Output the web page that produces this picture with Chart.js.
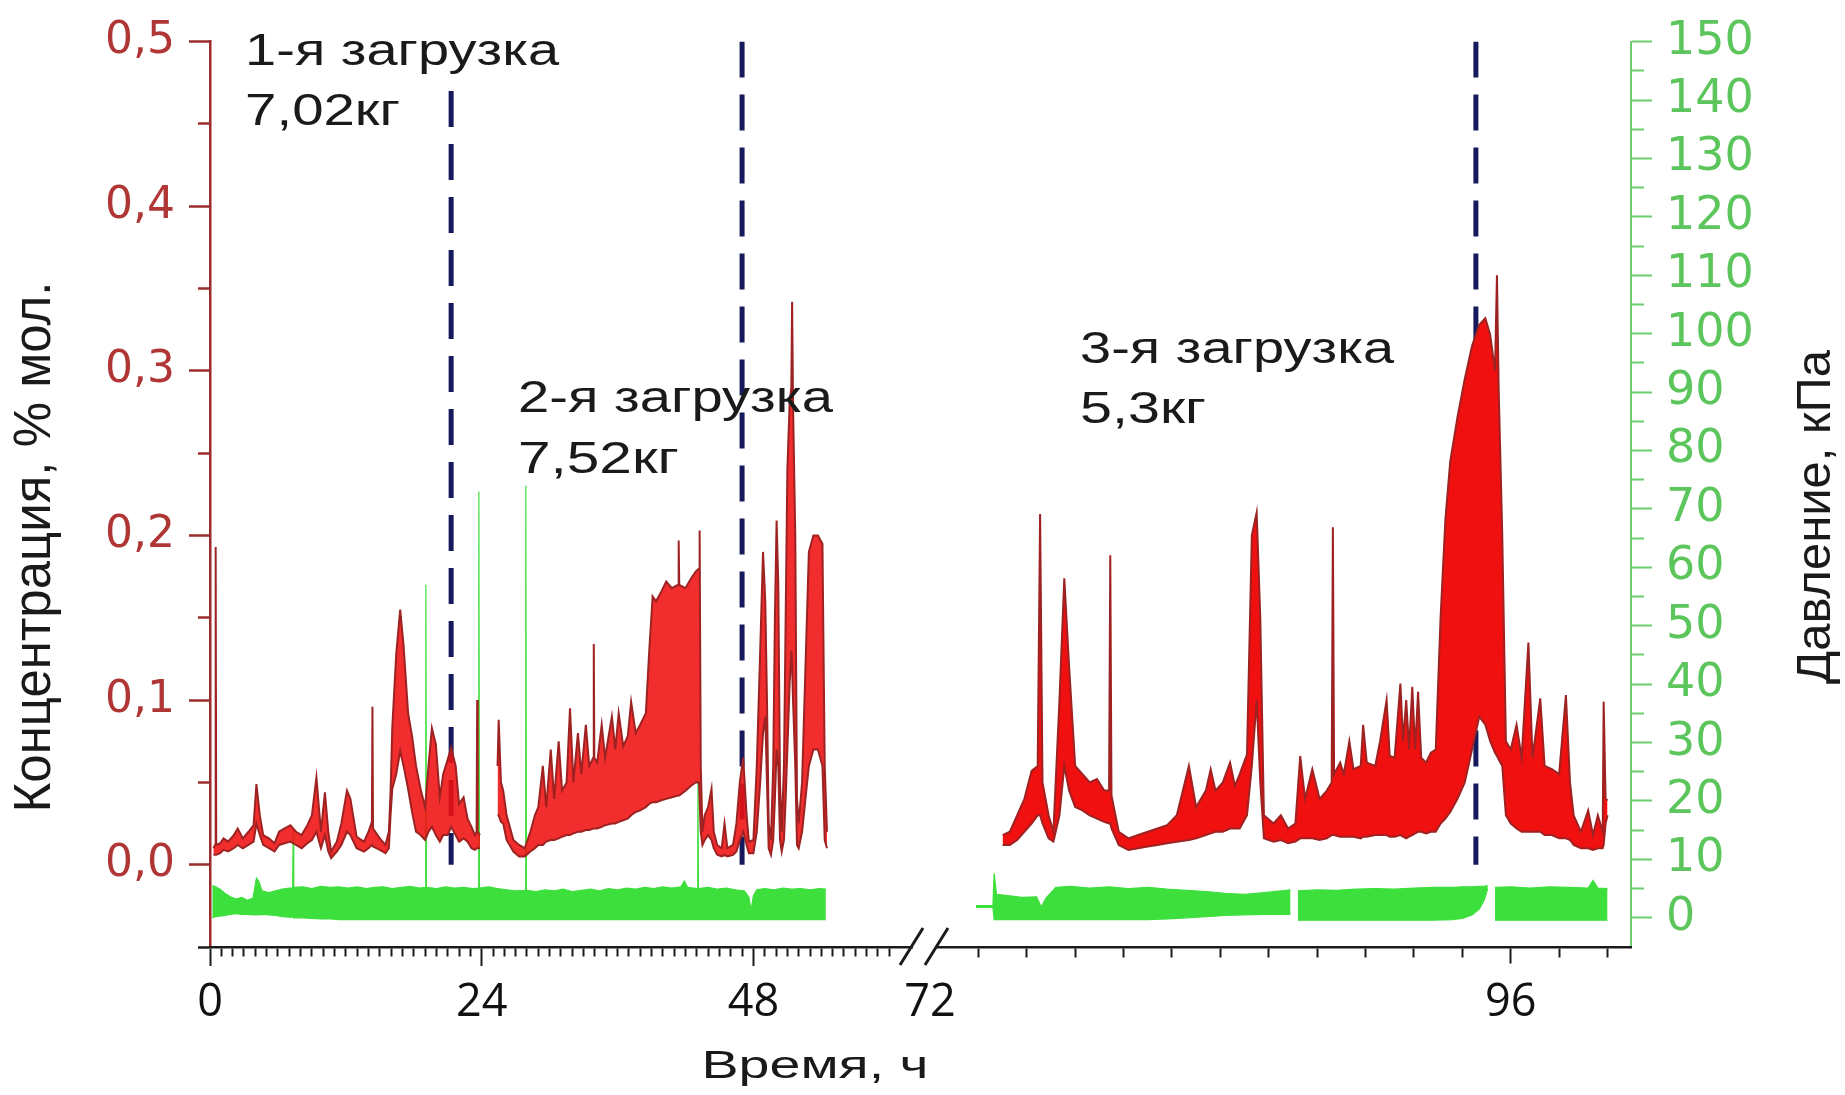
<!DOCTYPE html>
<html>
<head>
<meta charset="utf-8">
<script src="https://cdn.jsdelivr.net/npm/chart.js@4.4.1/dist/chart.umd.min.js"></script>
<style>
  html, body { margin: 0; padding: 0; background: #ffffff; }
  canvas { display: block; }
</style>
</head>
<body>
<canvas id="chart" width="1845" height="1095"></canvas>
<script>
// ---------- Concentration (% mol.), first stretch of the time axis, 0…54.5 h ----------
const concTimeA = [0.30,0.45,0.50,0.55,0.90,1.20,1.60,2.10,2.45,2.90,3.40,3.85,4.10,4.40,4.70,5.20,5.70,6.10,6.60,7.10,
  7.60,8.10,8.60,9.00,9.40,9.80,10.15,10.45,10.70,11.20,11.60,12.10,12.40,12.95,13.60,14.00,14.30,14.35,14.40,15.00,
  15.50,15.80,15.95,16.10,16.45,16.80,17.10,17.50,17.85,18.20,18.60,19.00,19.30,19.60,19.95,20.30,20.60,21.00,21.30,21.70,
  22.00,22.40,22.75,23.10,23.40,23.55,23.60,23.65,23.85,24.00,25.30,25.40,25.50,25.70,25.90,26.20,26.80,27.30,27.80,28.30,
  28.70,29.00,29.40,29.70,30.10,30.40,30.80,31.10,31.50,31.80,32.10,32.50,32.80,33.20,33.50,33.85,33.90,33.95,34.20,34.60,
  34.90,35.50,35.80,36.10,36.50,36.90,37.20,37.60,38.00,38.50,38.80,39.10,39.40,39.80,40.30,40.80,41.35,41.40,41.45,42.00,
  42.50,42.90,43.20,43.25,43.35,43.50,43.70,44.00,44.30,44.50,44.80,45.20,45.45,45.70,46.20,46.50,46.80,47.10,47.40,47.60,
  48.00,48.30,48.60,48.85,49.05,49.20,49.35,49.55,49.75,49.90,50.05,50.20,50.35,50.50,50.70,50.85,51.00,51.20,51.35,51.42,
  51.50,51.70,51.85,52.00,52.30,52.60,52.90,53.30,53.70,54.10,54.30,54.50];
const concHighA = [0.010,0.012,0.193,0.012,0.013,0.016,0.014,0.018,0.022,0.016,0.020,0.024,0.049,0.030,0.018,0.016,0.013,0.020,0.022,0.024,
  0.020,0.018,0.024,0.030,0.053,0.020,0.044,0.020,0.008,0.014,0.025,0.045,0.040,0.017,0.014,0.020,0.026,0.096,0.022,0.016,
  0.012,0.020,0.044,0.083,0.128,0.155,0.133,0.092,0.078,0.060,0.046,0.035,0.060,0.083,0.073,0.041,0.055,0.064,0.071,0.060,
  0.037,0.041,0.028,0.023,0.018,0.020,0.100,0.020,0.018,null,null,0.060,0.088,0.050,0.045,0.030,0.015,0.012,0.010,0.020,
  0.030,0.035,0.060,0.035,0.070,0.040,0.075,0.045,0.050,0.095,0.050,0.080,0.055,0.085,0.060,0.065,0.134,0.065,0.062,0.085,
  0.065,0.090,0.070,0.092,0.072,0.078,0.099,0.080,0.085,0.092,0.130,0.163,0.160,0.165,0.172,0.168,0.170,0.197,0.170,0.168,
  0.174,0.178,0.180,0.203,0.060,0.020,0.030,0.035,0.046,0.020,0.012,0.010,0.025,0.010,0.012,0.025,0.050,0.065,0.030,0.014,
  0.015,0.060,0.130,0.190,0.160,0.100,0.025,0.015,0.060,0.150,0.209,0.170,0.050,0.020,0.060,0.150,0.240,0.280,0.290,0.342,
  0.280,0.200,0.040,0.025,0.050,0.120,0.190,0.200,0.200,0.195,0.060,0.020];
const concLowA = [0.006,0.006,0.006,0.006,0.007,0.009,0.008,0.010,0.012,0.010,0.012,0.014,0.025,0.018,0.012,0.010,0.008,0.012,0.013,0.014,
  0.012,0.010,0.013,0.015,0.020,0.010,0.018,0.008,0.004,0.008,0.012,0.020,0.018,0.010,0.008,0.010,0.012,0.012,0.011,0.009,
  0.007,0.010,0.030,0.046,0.055,0.069,0.060,0.046,0.032,0.020,0.018,0.015,0.020,0.023,0.018,0.014,0.018,0.018,0.023,0.018,
  0.014,0.016,0.014,0.010,0.009,0.010,0.010,0.010,0.010,null,null,0.030,0.030,0.026,0.025,0.015,0.008,0.005,0.005,0.008,
  0.010,0.012,0.012,0.014,0.015,0.015,0.016,0.017,0.018,0.018,0.019,0.020,0.020,0.021,0.021,0.022,0.022,0.022,0.022,0.023,
  0.024,0.025,0.025,0.026,0.027,0.028,0.030,0.032,0.033,0.035,0.037,0.038,0.038,0.039,0.040,0.041,0.042,0.042,0.042,0.045,
  0.048,0.050,0.050,0.050,0.020,0.012,0.015,0.018,0.015,0.010,0.006,0.005,0.006,0.005,0.006,0.008,0.015,0.020,0.012,0.007,
  0.007,0.020,0.050,0.080,0.090,0.050,0.010,0.006,0.015,0.040,0.070,0.060,0.015,0.008,0.015,0.040,0.070,0.110,0.130,0.120,
  0.100,0.060,0.012,0.010,0.020,0.040,0.060,0.070,0.070,0.060,0.015,0.010];

// ---------- Concentration, second stretch of the time axis, 75…100 h ----------
const concTimeB = [75.00,75.30,75.60,75.90,76.20,76.45,76.55,76.65,76.90,77.10,77.35,77.55,77.75,78.00,78.30,78.60,78.90,79.20,79.40,79.45,
  79.50,79.80,80.20,80.60,81.00,81.40,81.80,82.20,82.70,83.00,83.40,83.60,83.80,84.10,84.40,84.60,84.80,85.10,85.30,85.50,
  85.65,85.80,86.20,86.50,86.80,87.10,87.30,87.50,87.80,88.10,88.40,88.60,88.65,88.70,88.95,89.10,89.33,89.50,89.80,89.90,
  90.05,90.40,90.60,90.87,91.00,91.20,91.44,91.55,91.68,91.80,91.93,92.05,92.17,92.30,92.50,92.70,92.90,93.10,93.30,93.50,
  93.80,94.10,94.40,94.70,94.95,95.15,95.35,95.43,95.50,95.65,95.80,96.00,96.24,96.45,96.73,96.90,97.22,97.40,97.70,98.00,
  98.28,98.45,98.60,98.90,99.20,99.40,99.60,99.80,99.84,99.92,100.00];
const concHighB = [0.018,0.020,0.030,0.040,0.057,0.060,0.213,0.050,0.030,0.020,0.100,0.174,0.120,0.060,0.055,0.050,0.052,0.045,0.045,0.188,
  0.042,0.020,0.016,0.018,0.020,0.022,0.024,0.030,0.060,0.035,0.045,0.058,0.045,0.050,0.062,0.048,0.055,0.067,0.200,0.214,
  0.150,0.030,0.025,0.030,0.022,0.025,0.066,0.040,0.058,0.040,0.045,0.050,0.205,0.055,0.062,0.055,0.075,0.058,0.060,0.085,
  0.062,0.060,0.075,0.100,0.066,0.065,0.110,0.075,0.100,0.070,0.108,0.070,0.105,0.065,0.062,0.068,0.070,0.150,0.210,0.245,
  0.272,0.295,0.315,0.328,0.332,0.322,0.300,0.358,0.290,0.200,0.075,0.070,0.085,0.065,0.135,0.065,0.101,0.060,0.058,0.055,
  0.103,0.050,0.030,0.020,0.033,0.018,0.030,0.020,0.099,0.040,0.039];
const concLowB = [0.012,0.012,0.015,0.020,0.025,0.030,0.030,0.025,0.016,0.014,0.030,0.060,0.045,0.035,0.033,0.030,0.028,0.026,0.025,0.025,
  0.022,0.012,0.009,0.010,0.011,0.012,0.013,0.014,0.015,0.016,0.018,0.019,0.020,0.020,0.022,0.022,0.022,0.030,0.060,0.100,
  0.050,0.016,0.014,0.015,0.013,0.014,0.016,0.016,0.016,0.015,0.016,0.018,0.018,0.018,0.017,0.017,0.017,0.017,0.016,0.017,
  0.017,0.018,0.018,0.018,0.017,0.017,0.018,0.017,0.016,0.017,0.018,0.019,0.020,0.020,0.019,0.020,0.020,0.025,0.028,0.032,
  0.040,0.050,0.070,0.090,0.085,0.075,0.068,0.066,0.064,0.060,0.030,0.025,0.022,0.020,0.020,0.020,0.020,0.018,0.018,0.016,
  0.016,0.015,0.012,0.010,0.010,0.009,0.010,0.010,0.012,0.025,0.030];

// ---------- Pressure (kPa), first stretch ----------
const presTimeA = [0.2,0.5,0.9,1.3,1.8,2.3,2.8,3.3,3.8,4.1,4.3,4.6,5.2,5.8,6.4,7.0,7.3,7.35,7.4,8.2,
  9.0,9.8,10.6,11.4,12.2,13.0,13.8,14.5,15.3,16.1,16.9,17.7,18.5,19.02,19.07,19.12,20.0,20.8,21.6,22.4,
  23.2,23.7,23.75,23.8,24.6,25.4,26.2,27.0,27.85,27.9,27.95,28.8,29.6,30.4,31.2,32.0,32.8,33.6,34.4,35.2,
  36.0,36.8,37.6,38.4,39.2,40.0,40.8,41.6,41.9,42.2,43.05,43.1,43.15,44.0,44.8,45.6,46.4,47.2,47.6,47.8,
  48.0,48.3,49.0,49.8,50.6,51.4,52.2,53.0,53.8,54.4];
const presHighA = [5.5,5.3,4.9,4.2,3.6,3.2,3.5,3.0,3.4,6.8,6.3,4.6,4.3,4.6,4.9,5.1,5.1,15,5.2,5.3,
  5.0,5.4,5.2,5.3,5.1,5.3,5.0,5.2,5.3,5.0,5.2,5.4,5.1,5.2,57,5.2,5.0,5.3,5.1,5.2,
  5.0,5.1,73,5.1,5.3,5.0,4.8,4.6,4.7,74,4.7,4.5,4.8,4.6,4.9,4.5,4.7,4.9,4.6,5.0,
  4.8,5.1,4.9,5.2,5.0,5.3,5.1,5.3,6.3,5.2,5.0,24,5.0,5.2,4.9,5.1,4.8,4.6,3.5,1.3,
  3.8,4.8,5.0,4.8,5.1,4.9,5.0,4.8,5.0,4.9];
const presLowA = [0,0.2,0.3,0.4,0.6,0.7,0.6,0.6,0.5,0.5,0.5,0.6,0.5,0.4,0.2,0.1,0.1,0.1,0,0,
  -0.1,-0.2,-0.2,-0.3,-0.3,-0.3,-0.3,-0.3,-0.3,-0.3,-0.3,-0.3,-0.3,-0.3,-0.3,-0.3,-0.3,-0.3,-0.3,-0.3,
  -0.3,-0.3,-0.3,-0.3,-0.3,-0.3,-0.3,-0.3,-0.3,-0.3,-0.3,-0.3,-0.3,-0.3,-0.3,-0.3,-0.3,-0.3,-0.3,-0.3,
  -0.3,-0.3,-0.3,-0.3,-0.3,-0.3,-0.3,-0.3,-0.3,-0.3,-0.3,-0.3,-0.3,-0.3,-0.3,-0.3,-0.3,-0.3,-0.3,-0.3,
  -0.3,-0.3,-0.3,-0.3,-0.3,-0.3,-0.3,-0.3,-0.3,-0.3];

// ---------- Pressure, second stretch ----------
const presTimeB = [73.9,74.6,74.65,74.75,75.2,75.8,76.4,76.6,76.8,77.2,77.8,78.6,79.4,80.2,81.0,81.8,82.6,83.4,84.2,85.0,
  85.8,86.5,86.9,87.0,87.1,87.2,88.0,88.8,89.6,90.4,91.2,92.0,92.8,93.6,94.0,94.4,94.7,94.9,95.05,95.1,
  95.3,95.35,96.0,96.8,97.6,98.4,99.2,99.4,99.6,100.0];
const presHighB = [2.1,2.1,7.6,4.0,3.8,3.5,3.6,1.9,3.4,5.2,5.4,5.1,5.3,5.0,5.2,4.9,4.7,4.5,4.2,4.0,
  4.3,4.6,4.8,null,null,4.6,4.8,4.7,4.9,5.0,4.9,5.1,5.2,5.2,5.3,5.3,5.4,5.4,5.5,null,
  null,5.2,5.3,5.1,5.3,5.2,5.1,6.4,5.1,5.0];
const presLowB = [1.8,1.8,-0.3,-0.3,-0.3,-0.3,-0.3,-0.3,-0.3,-0.3,-0.3,-0.3,-0.3,-0.3,-0.3,-0.2,0,0.2,0.4,0.5,
  0.6,0.6,0.6,null,null,-0.4,-0.4,-0.4,-0.4,-0.4,-0.4,-0.4,-0.4,-0.3,-0.1,0.5,1.5,3.0,5.0,null,
  null,-0.4,-0.4,-0.4,-0.4,-0.4,-0.4,-0.4,-0.4,-0.4];

// ---------- Loadings ----------
const loadTimes = [21.3, 47.0, 94.56];
const loadLineTop = [0.47, 0.5, 0.5];
const loadNames = ['1-я загрузка', '2-я загрузка', '3-я загрузка'];
const loadMasses = ['7,02кг', '7,52кг', '5,3кг'];

// ---------- Axis labels ----------
const timeLabelsA = [0, 24, 48];
const timeLabelsB = [72, 96];
const timeTitle = 'Время, ч';
const concTitle = 'Концентрация, % мол.';
const presTitle = 'Давление, кПа';

const SANS = '"Liberation Sans", Arial, sans-serif';
const RED_EDGE = '#9e2222';
const RED_FILL_THIN = 'rgba(240,16,16,0.88)';
const RED_FILL = 'rgb(240,16,16)';
const GREEN = '#3ddf3d';
const NAVY = '#161a5c';
const CLEAR = 'rgba(0,0,0,0)';

const pts = (t, v) => t.map((x, i) => ({ x, y: v[i] }));

function band(t, hi, lo, xAxis, yAxis, edge, fillColor, edgeWidth, order) {
  return [
    { data: pts(t, hi), xAxisID: xAxis, yAxisID: yAxis, borderColor: edge, borderWidth: edgeWidth,
      pointRadius: 0, tension: 0, fill: false, order: order },
    { data: pts(t, lo), xAxisID: xAxis, yAxisID: yAxis, borderColor: edge, borderWidth: edgeWidth,
      backgroundColor: fillColor, pointRadius: 0, tension: 0, fill: '-1', order: order + 1 }
  ];
}

const loadLines = loadTimes.map((t, i) => ({
  data: [{ x: t, y: loadLineTop[i] }, { x: t, y: 0 }],
  xAxisID: t < 72 ? 'x1' : 'x2', yAxisID: 'yL',
  borderColor: NAVY, borderWidth: 5, borderDash: [36, 17],
  pointRadius: 0, fill: false, order: 10
}));

// break marks, stretched captions and rotated titles
const decorations = {
  id: 'decorations',
  afterDraw(chart, args, opts) {
    const ctx = chart.ctx;
    const yL = chart.scales.yL;
    const drawStretched = (text, x, y, size, width, align) => {
      ctx.save();
      ctx.font = `${size}px ${SANS}`;
      const w = ctx.measureText(text).width;
      ctx.translate(x, y);
      ctx.scale(width / w, 1);
      ctx.textAlign = align;
      ctx.textBaseline = 'alphabetic';
      ctx.fillStyle = '#1a1a1a';
      ctx.fillText(text, 0, 0);
      ctx.restore();
    };

    // captions of the three loadings
    opts.notes.forEach((n, i) => {
      const x = chart.scales[n.axis].getPixelForValue(n.t);
      const y = yL.getPixelForValue(n.v);
      drawStretched(loadNames[i], x, y, opts.noteSize, n.w1, 'left');
      drawStretched(loadMasses[i], x, y + n.gap, opts.noteSize, n.w2, 'left');
    });

    // axis break "//"
    const xb = chart.scales.x2.left;
    const yb = chart.chartArea.bottom;
    ctx.save();
    ctx.fillStyle = '#ffffff';
    ctx.fillRect(xb - 17, yb - 4, 23, 8);
    ctx.strokeStyle = '#1b1b1b';
    ctx.lineWidth = 3;
    ctx.beginPath();
    ctx.moveTo(xb - 30, yb + 18); ctx.lineTo(xb - 7, yb - 19);
    ctx.moveTo(xb - 5, yb + 18); ctx.lineTo(xb + 18, yb - 19);
    ctx.stroke();
    ctx.restore();

    // axis titles
    drawStretched(timeTitle, opts.timeTitle.x, opts.timeTitle.y, opts.timeTitle.size, opts.timeTitle.w, 'center');
    const rotated = (text, cx, cy, size) => {
      ctx.save();
      ctx.font = `${size}px ${SANS}`;
      ctx.translate(cx, cy);
      ctx.rotate(-Math.PI / 2);
      ctx.textAlign = 'center';
      ctx.textBaseline = 'alphabetic';
      ctx.fillStyle = '#1a1a1a';
      ctx.fillText(text, 0, size * 0.358);
      ctx.restore();
    };
    rotated(concTitle, opts.concTitle.x, opts.concTitle.y, opts.concTitle.size);
    rotated(presTitle, opts.presTitle.x, opts.presTitle.y, opts.presTitle.size);
  }
};

const hundredths = v => Math.round(v * 100);

new Chart(document.getElementById('chart'), {
  type: 'line',
  data: {
    datasets: [
      ...band(concTimeA, concHighA, concLowA, 'x1', 'yL', RED_EDGE, RED_FILL_THIN, 2, 1),
      ...band(concTimeB, concHighB, concLowB, 'x2', 'yL', RED_EDGE, RED_FILL, 2, 1),
      ...band(presTimeA, presHighA, presLowA, 'x1', 'yR', GREEN, GREEN, 1.2, 5),
      ...band(presTimeB, presHighB, presLowB, 'x2', 'yR', GREEN, GREEN, 1.2, 5),
      ...loadLines
    ]
  },
  options: {
    responsive: false,
    animation: false,
    devicePixelRatio: 1,
    layout: { padding: { top: 35, left: 0, right: 0, bottom: 0 } },
    plugins: {
      legend: { display: false },
      tooltip: { enabled: false },
      decorations: {
        noteSize: 44,
        notes: [
          { axis: 'x1', t: 3.1, v: 0.4855, gap: 60, w1: 314, w2: 155 },
          { axis: 'x1', t: 27.2, v: 0.2747, gap: 61, w1: 315, w2: 161 },
          { axis: 'x2', t: 78.2, v: 0.3048, gap: 60, w1: 314, w2: 126 }
        ],
        timeTitle: { x: 815, y: 1078, size: 39, w: 227 },
        concTitle: { x: 32, y: 547, size: 51 },
        presTitle: { x: 1812, y: 517, size: 49 }
      }
    },
    scales: {
      yL: {
        type: 'linear', position: 'left', min: -0.05, max: 0.5,
        afterFit: s => { s.width = 210; },
        ticks: {
          stepSize: 0.05, autoSkip: false, padding: 14, color: '#b03636',
          font: { family: '"DejaVu Sans", sans-serif', size: 44 },
          callback: v => { const k = hundredths(v); return (k >= 0 && k % 10 === 0) ? (k / 100).toFixed(1).replace('.', ',') : ''; }
        },
        grid: {
          drawOnChartArea: false, tickLength: 21, tickWidth: 2.5,
          tickColor: c => (c.tick && hundredths(c.tick.value) < 0) ? '#1b1b1b' : '#9a2c2c',
          tickBorderDash: c => (c.tick && hundredths(c.tick.value) % 10 === 0) ? [] : [0, 9, 12, 60]
        },
        border: { color: '#9a2c2c', width: 2.5 }
      },
      yR: {
        type: 'linear', position: 'right', min: -5, max: 150,
        afterFit: s => { s.width = 214; },
        ticks: {
          stepSize: 5, autoSkip: false, padding: 14, color: '#5cc65c',
          font: { family: '"DejaVu Sans", sans-serif', size: 46 },
          callback: v => (v >= 0 && Math.round(v) % 10 === 0) ? String(Math.round(v)) : ''
        },
        grid: {
          drawOnChartArea: false, tickLength: 21, tickWidth: 2,
          tickColor: c => (c.tick && c.tick.value < 0) ? CLEAR : '#6ccb6c',
          tickBorderDash: c => (c.tick && Math.round(c.tick.value) % 10 === 0) ? [] : [12, 60]
        },
        border: { color: '#6ccb6c', width: 2 }
      },
      x1: {
        type: 'linear', position: 'bottom', stack: 'time', stackWeight: 720,
        min: 0, max: 63.6,
        afterFit: s => { s.height = 148; },
        ticks: {
          stepSize: 1, includeBounds: false, autoSkip: false, maxRotation: 0, padding: 10,
          color: '#111111', font: { family: '"Open Sans", sans-serif', size: 45 },
          callback: v => timeLabelsA.includes(v) ? String(v) : ''
        },
        grid: {
          drawOnChartArea: false, tickLength: 19, tickWidth: 2,
          tickColor: c => (c.tick && c.tick.value > 60.5) ? CLEAR : '#1b1b1b',
          tickBorderDash: c => (c.tick && c.tick.value % 24 === 0) ? [] : [8, 60]
        },
        border: { color: '#1b1b1b', width: 2.5 }
      },
      x2: {
        type: 'linear', position: 'bottom', stack: 'time', stackWeight: 701,
        min: 72, max: 100.97,
        afterFit: s => { s.height = 148; },
        ticks: {
          stepSize: 2, includeBounds: false, autoSkip: false, maxRotation: 0, padding: 10,
          color: '#111111', font: { family: '"Open Sans", sans-serif', size: 45 },
          callback: v => timeLabelsB.includes(v) ? String(v) : ''
        },
        grid: {
          drawOnChartArea: false, tickLength: 19, tickWidth: 2,
          tickColor: c => (c.tick && c.tick.value === 72) ? CLEAR : '#1b1b1b',
          tickBorderDash: c => (c.tick && c.tick.value === 96) ? [15, 60] : [9, 60]
        },
        border: { color: '#1b1b1b', width: 2.5 }
      }
    }
  },
  plugins: [decorations]
});
</script>
</body>
</html>
